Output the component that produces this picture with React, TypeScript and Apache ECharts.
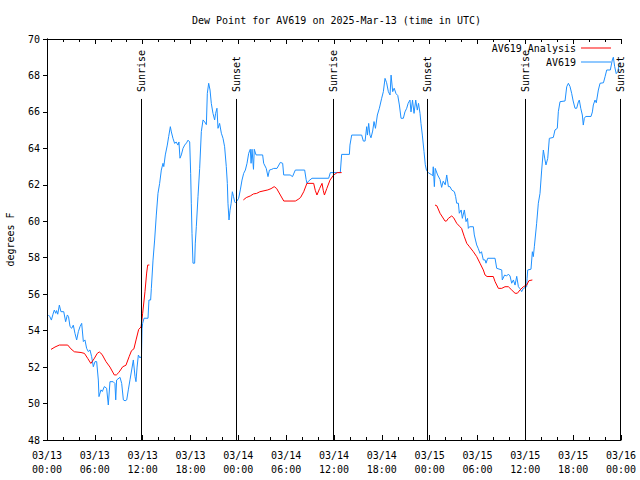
import React, { useEffect, useRef } from "react";
import * as echarts from "echarts";

const FONT = "DejaVu Sans Mono";
const TITLE = "Dew Point for AV619 on 2025-Mar-13 (time in UTC)";
const Y_NAME = "degrees F";

// hours since 2025-03-13 00:00 UTC, dew point (°F)
const av619: [number, number][] = [
  [0.17, 54.86], [0.35, 54.77], [0.55, 54.58], [0.75, 54.9], [0.92, 55.13], [1.1, 54.95], [1.2, 55.1], [1.35, 54.9],
  [1.55, 55.4], [1.75, 55.04], [2.1, 55.04], [2.34, 54.49], [2.55, 54.86], [2.7, 54.77], [2.89, 54.22], [3.1, 54.13],
  [3.3, 54.3], [3.51, 53.85], [3.72, 53.49], [3.93, 53.94], [4.14, 54.22], [4.35, 54.4], [4.56, 53.4], [4.76, 53.49],
  [4.97, 53.03], [5.18, 52.85], [5.39, 52.94], [5.6, 52.57], [5.81, 52.02], [6.02, 52.3], [6.23, 52.3], [6.44, 51.29],
  [6.52, 50.38], [6.77, 50.75], [6.94, 50.66], [7.19, 50.93], [7.48, 50.84], [7.69, 49.92], [7.9, 51.2], [8.3, 51.2],
  [8.52, 51.1], [8.62, 50.2], [8.73, 51.29], [9.16, 51.44], [9.37, 51.1], [9.58, 50.2], [9.79, 50.15], [10.0, 50.2],
  [10.2, 50.75], [10.41, 51.3], [10.62, 51.84], [10.83, 52.39], [11.04, 51.48], [11.16, 51.2], [11.3, 52.0], [11.46, 52.66],
  [11.67, 52.5], [11.85, 52.6], [11.92, 54.1], [12.0, 54.4], [12.17, 54.68], [12.67, 54.68], [12.79, 55.68], [13.0, 55.68],
  [13.09, 56.32], [13.3, 57.87], [13.5, 58.97], [13.71, 60.34], [13.92, 61.53], [14.13, 62.08], [14.34, 62.81], [14.55, 63.18],
  [14.65, 63.0], [14.84, 63.64], [15.09, 64.18], [15.26, 64.64], [15.47, 65.19], [15.6, 64.9], [15.8, 64.55], [16.01, 64.27],
  [16.2, 64.35], [16.43, 64.18], [16.55, 64.35], [16.68, 63.46], [16.85, 63.64], [17.06, 64.0], [17.27, 64.18], [17.5, 64.3],
  [17.69, 64.45], [17.9, 64.35], [18.02, 62.63], [18.1, 60.99], [18.19, 59.34], [18.31, 57.7], [18.52, 57.7], [18.6, 58.8],
  [18.73, 59.7], [18.94, 61.35], [19.15, 62.9], [19.36, 64.92], [19.57, 65.56], [19.78, 65.45], [19.99, 65.3], [20.11, 67.02],
  [20.28, 67.57], [20.45, 67.2], [20.61, 66.47], [20.82, 65.92], [21.03, 65.56], [21.15, 65.92], [21.32, 66.2], [21.45, 65.1],
  [21.65, 65.37], [21.87, 64.83], [22.08, 64.55], [22.28, 64.09], [22.49, 63.0], [22.62, 62.08], [22.7, 60.99], [22.83, 60.07],
  [22.96, 60.6], [23.1, 60.99], [23.25, 61.62], [23.4, 61.35], [23.54, 61.07], [23.62, 61.02], [23.8, 61.1], [24.04, 61.26],
  [24.25, 61.72], [24.46, 62.26], [24.67, 62.63], [24.88, 62.81], [25.09, 63.18], [25.3, 63.73], [25.5, 63.95], [25.6, 63.18],
  [25.72, 63.95], [25.9, 62.85], [26.0, 63.95], [26.22, 63.64], [27.05, 63.64], [27.18, 63.18], [27.5, 62.9], [27.72, 62.45],
  [27.9, 62.81], [28.2, 62.85], [28.43, 62.9], [28.85, 62.9], [29.27, 63.23], [29.56, 63.18], [29.69, 62.54], [30.5, 62.54],
  [30.8, 62.45], [30.94, 62.6], [31.15, 62.81], [32.32, 62.81], [32.5, 62.3], [32.61, 62.08], [32.8, 62.2], [33.24, 62.36],
  [35.33, 62.36], [35.54, 62.67], [36.79, 62.67], [36.96, 63.67], [37.93, 63.67], [38.0, 64.18], [38.22, 64.73], [39.47, 64.73],
  [39.68, 64.4], [39.9, 64.4], [40.1, 65.19], [40.2, 64.73], [40.35, 65.37], [40.5, 64.73], [40.64, 64.58], [40.85, 64.95],
  [41.02, 65.47], [41.2, 65.1], [41.44, 65.83], [41.69, 66.2], [41.98, 66.75], [42.19, 67.11], [42.4, 67.84], [42.6, 67.6],
  [42.82, 67.11], [43.03, 66.93], [43.16, 68.02], [43.36, 67.11], [43.55, 67.3], [43.78, 67.0], [44.0, 66.9], [44.2, 66.38],
  [44.41, 65.65], [44.7, 65.65], [44.9, 66.0], [45.12, 66.2], [45.3, 66.47], [45.53, 66.65], [45.66, 66.0], [45.85, 66.65],
  [46.04, 65.92], [46.25, 66.65], [46.45, 66.1], [46.6, 66.47], [46.79, 65.92], [46.91, 65.37], [47.08, 64.73], [47.29, 63.82],
  [47.45, 63.1], [47.6, 62.8], [47.84, 62.66], [48.25, 62.55], [48.38, 62.5], [48.45, 62.99], [48.59, 61.9], [48.7, 62.9],
  [49.0, 62.54], [49.3, 62.29], [49.5, 61.86], [49.7, 62.2], [49.95, 62.0], [50.14, 62.54], [50.35, 61.9], [50.55, 61.9],
  [50.76, 61.72], [51.1, 61.62], [51.26, 61.35], [51.39, 60.99], [51.6, 60.99], [51.72, 60.44], [51.95, 60.62], [52.1, 60.16],
  [52.35, 60.62], [52.56, 59.98], [52.75, 60.16], [52.85, 59.61], [53.0, 59.7], [53.48, 59.7], [53.6, 59.25], [53.75, 58.97],
  [53.9, 58.7], [54.1, 58.5], [54.31, 58.24], [54.5, 58.33], [54.73, 57.88], [54.95, 57.88], [55.07, 57.7], [55.28, 57.97],
  [56.2, 57.97], [56.41, 57.42], [57.04, 57.33], [57.11, 56.78], [57.4, 57.05], [57.66, 57.0], [57.87, 57.1], [58.08, 57.0],
  [58.29, 56.6], [58.5, 56.78], [58.71, 56.5], [58.92, 56.98], [59.13, 56.41], [59.33, 56.3], [59.54, 56.14], [59.75, 56.32],
  [59.96, 56.36], [60.17, 56.41], [60.22, 56.87], [60.3, 57.33], [60.71, 57.37], [60.88, 58.33], [61.0, 58.06], [61.13, 58.6],
  [61.42, 59.89], [61.63, 60.99], [61.84, 61.53], [62.05, 62.81], [62.26, 63.91], [62.47, 63.36], [62.59, 63.09], [62.81, 63.45],
  [63.01, 64.55], [63.51, 64.6], [63.72, 65.01], [64.01, 65.1], [64.14, 66.01], [64.35, 66.56], [64.98, 66.6], [65.19, 67.38],
  [65.4, 67.57], [65.6, 67.4], [65.81, 67.02], [66.0, 66.6], [66.23, 66.2], [66.44, 66.2], [66.65, 66.55], [66.77, 66.65],
  [66.95, 66.2], [67.15, 65.83], [67.27, 65.28], [67.4, 65.65], [67.57, 65.75], [68.24, 65.75], [68.41, 66.0], [68.53, 66.38],
  [68.74, 66.65], [68.9, 66.5], [69.16, 67.2], [69.37, 67.57], [69.8, 67.6], [70.0, 67.93], [70.21, 68.3], [70.66, 68.3],
  [70.91, 68.85], [71.04, 69.0], [71.2, 68.5], [71.4, 68.1], [71.6, 68.2], [71.8, 68.7],
];

const analysisDay1: [number, number][] = [
  [0.5, 52.97], [1.0, 53.1], [1.55, 53.21], [2.6, 53.21], [3.0, 53.0], [3.43, 52.84], [4.27, 52.8], [4.7, 52.75],
  [5.1, 52.48], [5.5, 52.2], [5.9, 52.45], [6.3, 52.75], [6.56, 52.83], [6.9, 52.7], [7.4, 52.3], [7.9, 52.0],
  [8.44, 51.57], [8.7, 51.57], [9.0, 51.7], [9.5, 52.02], [9.9, 52.1], [10.3, 52.57], [10.6, 52.9], [10.9, 53.0],
  [11.17, 53.49], [11.5, 54.07], [11.8, 54.2], [12.0, 54.95], [12.29, 56.14], [12.5, 57.16], [12.63, 57.6], [12.84, 57.6],
];
const analysisDay2: [number, number][] = [
  [24.63, 61.17], [25.0, 61.3], [25.5, 61.39], [25.9, 61.5], [26.3, 61.53], [26.7, 61.62], [27.7, 61.72], [28.1, 61.79],
  [28.5, 61.9], [28.8, 61.8], [29.27, 61.44], [29.7, 61.11], [31.15, 61.11], [31.5, 61.2], [31.8, 61.3], [32.2, 61.62],
  [32.6, 62.08], [33.45, 62.08], [33.65, 61.7], [33.86, 61.44], [34.2, 61.8], [34.5, 62.08], [34.65, 61.7], [34.8, 61.44],
  [35.1, 61.8], [35.5, 62.26], [35.96, 62.54], [36.4, 62.67], [36.96, 62.67],
];
const analysisDay3: [number, number][] = [
  [48.67, 60.89], [48.9, 60.85], [49.3, 60.44], [49.93, 60.01], [50.1, 60.01], [50.35, 60.16], [50.76, 60.29], [51.0, 60.2],
  [51.39, 59.89], [51.8, 59.7], [52.0, 59.61], [52.35, 59.15], [52.65, 58.79], [53.0, 58.6], [53.48, 58.33], [53.9, 58.06],
  [54.31, 57.7], [54.73, 57.33], [54.95, 57.05], [55.2, 56.97], [55.98, 56.97], [56.2, 56.69], [56.62, 56.32], [57.04, 56.32],
  [57.45, 56.41], [57.87, 56.41], [58.29, 56.23], [58.71, 56.05], [59.0, 56.05], [59.33, 56.23], [59.75, 56.41], [60.17, 56.5],
  [60.45, 56.74], [60.88, 56.78],
];

const sunEventNames = ["Sunrise", "Sunset", "Sunrise", "Sunset", "Sunrise", "Sunset"];
const sunEventHours = [11.88, 23.75, 35.96, 47.7, 60.0, 71.88];

const Y_MIN = 48;
const Y_MAX = 70;
const LINE_TOP = 66.71;
const LABEL_BOTTOM = 67.09;

const pad = (n: number) => (n < 10 ? "0" + n : "" + n);

export default function App() {
  const ref = useRef<HTMLDivElement>(null);
  useEffect(() => {
    if (!ref.current) return;
    const chart = echarts.init(ref.current, null, { renderer: "svg" });
    const analysis: any[] = [
      ...analysisDay1,
      [null, null],
      ...analysisDay2,
      [null, null],
      ...analysisDay3,
    ];
    const markData: any[] = [];
    sunEventHours.forEach((h, i) => {
      markData.push([
        { coord: [h, Y_MIN], label: { show: false } },
        { coord: [h, LINE_TOP] },
      ]);
      markData.push([
        {
          coord: [h, LABEL_BOTTOM],
          lineStyle: { color: "rgba(0,0,0,0)" },
          label: {
            show: true,
            position: "insideStart",
            distance: 0,
            formatter: sunEventNames[i],
            color: "#000",
            fontFamily: FONT,
            fontSize: 10,
          },
        },
        { coord: [h, Y_MAX] },
      ]);
    });
    const textStyle = { fontFamily: FONT, fontSize: 10, color: "#000" };
    const axisLine = { show: true, lineStyle: { color: "#000", width: 1 } };
    chart.setOption({
      animation: false,
      backgroundColor: "#fff",
      title: {
        text: TITLE,
        left: 187,
        top: 10,
        textStyle: { ...textStyle, fontWeight: "normal" },
      },
      legend: [
        {
          data: ["AV619 Analysis"],
          right: 29,
          top: 43,
          padding: 0,
          align: "right",
          icon: "rect",
          itemWidth: 30,
          itemHeight: 1,
          selectedMode: false,
          textStyle,
        },
        {
          data: ["AV619"],
          right: 29,
          top: 57,
          padding: 0,
          align: "right",
          icon: "rect",
          itemWidth: 30,
          itemHeight: 1,
          selectedMode: false,
          textStyle,
        },
      ],
      grid: { left: 47, right: 19, top: 39, bottom: 40, containLabel: false, outerBoundsMode: "none" },
      xAxis: [
        {
          type: "value",
          min: 0,
          max: 72,
          interval: 6,
          axisLine,
          splitLine: { show: false },
          axisTick: { inside: true, length: 5, lineStyle: { color: "#000" } },
          minorTick: { show: true, splitNumber: 3, length: 3, lineStyle: { color: "#000" } },
          axisLabel: {
            ...textStyle,
            margin: 8,
            lineHeight: 14,
            formatter: (v: number) => {
              const day = 13 + Math.floor(v / 24);
              const hr = v % 24;
              return `03/${pad(day)}\n${pad(hr)}:00`;
            },
          },
        },
        {
          type: "value",
          position: "top",
          min: 0,
          max: 72,
          interval: 6,
          axisLine,
          splitLine: { show: false },
          axisTick: { inside: true, length: 5, lineStyle: { color: "#000" } },
          minorTick: { show: true, splitNumber: 3, length: 3, lineStyle: { color: "#000" } },
          axisLabel: { show: false },
        },
      ],
      yAxis: [
        {
          type: "value",
          min: Y_MIN,
          max: Y_MAX,
          interval: 2,
          name: Y_NAME,
          nameLocation: "middle",
          nameGap: 32,
          nameTextStyle: textStyle,
          axisLine,
          splitLine: { show: false },
          axisTick: { show: false },
          axisLabel: { ...textStyle, margin: 7 },
        },
        {
          type: "value",
          position: "right",
          min: Y_MIN,
          max: Y_MAX,
          interval: 2,
          axisLine,
          splitLine: { show: false },
          axisTick: { inside: true, length: 4, lineStyle: { color: "#000" } },
          axisLabel: { show: false },
        },
      ],
      series: [
        {
          name: "AV619 Analysis",
          type: "line",
          data: analysis,
          connectNulls: false,
          showSymbol: false,
          symbol: "none",
          color: "#ff0000",
          lineStyle: { width: 1, color: "#ff0000" },
          z: 3,
        },
        {
          name: "AV619",
          type: "line",
          data: av619,
          showSymbol: false,
          symbol: "none",
          color: "#1e90ff",
          lineStyle: { width: 1, color: "#1e90ff" },
          z: 2,
          markLine: {
            silent: true,
            symbol: ["none", "none"],
            lineStyle: { color: "#000", width: 1, type: "solid" },
            label: { show: false },
            data: markData,
          },
        },
      ],
    });
    return () => chart.dispose();
  }, []);
  return (
    <div
      ref={ref}
      style={{ position: "fixed", left: 0, top: 0, width: 640, height: 480, background: "#fff" }}
    />
  );
}
